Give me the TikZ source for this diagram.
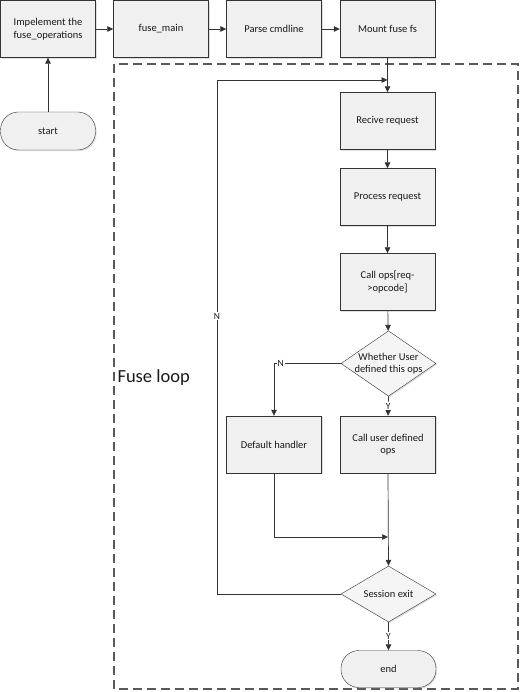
\documentclass[tikz,border=0pt]{standalone}
\usepackage{fontspec}
\setmainfont{Carlito}
\usetikzlibrary{positioning,shapes.geometric,shadows,arrows.meta}

\begin{document}
\begin{tikzpicture}[
		x=1pt, y=-1pt,
		every node/.style={font=\fontsize{10.5}{12.5}\selectfont, text=black!90, align=center},
		box/.style={rectangle, draw=black!80, fill=black!6, minimum width=95pt, minimum height=57pt,
				drop shadow={shadow xshift=1.2pt, shadow yshift=-1.2pt, opacity=0.25}},
		term/.style={box, rounded corners=18pt, minimum height=37pt},
		choice/.style={diamond, draw=black!80, fill=black!4, minimum width=95pt, minimum height=57pt, inner sep=-6pt,
				drop shadow={shadow xshift=1.2pt, shadow yshift=-1.2pt, opacity=0.25}},
		flow/.style={draw=black!80, line width=0.7pt, -{Triangle[length=6pt,width=5.5pt]}},
		lbl/.style={fill=white, inner sep=1pt, font=\fontsize{9.5}{10}\selectfont},
		loopbox/.style={draw=black!65, line width=1.8pt, dash pattern=on 9pt off 5pt}
	]
	\useasboundingbox (0,0) rectangle (522,692);

	% fuse loop frame
	\draw[loopbox] (114,64) rectangle (518,689);
	\node[anchor=west, font=\fontsize{18.5}{20}\selectfont] (looplbl) at (114,378) {Fuse loop};

	% setup chain
	\node[box] (impl) at (48,29) {Impelement the\\fuse\_operations};
	\node[box] (fusemain) at (161,29) {fuse\_main};
	\node[box] (parse) at (274,29) {Parse cmdline};
	\node[box] (mount) at (387.5,29) {Mount fuse fs};
	\node[term, minimum height=38pt] (start) at (48,131) {start};

	% request loop
	\node[box] (recv) at (387.5,121) {Recive request};
	\node[box] (process) at (387.5,197) {Process request};
	\node[box] (callops) at (387.5,282) {Call ops[req-\\>opcode]};
	\node[choice] (check) at (388.5,363.5) {Whether User\\defined this ops};
	\node[box] (userops) at (388,444.5) {Call user defined\\ops};
	\node[box] (handler) at (274,444.5) {Default handler};
	\node[choice, minimum height=56pt] (session) at (388.5,594) {Session exit};
	\node[term] (end) at (388.5,669) {end};

	\coordinate (looptop) at (217,80);
	\coordinate (merge) at (274,537);

	\draw[flow] (start) -- (impl);
	\draw[flow] (impl) -- (fusemain);
	\draw[flow] (fusemain) -- (parse);
	\draw[flow] (parse) -- (mount);
	\draw[flow] (mount) -- (recv);
	\draw[flow] (recv) -- (process);
	\draw[flow] (process) -- (callops);
	\draw[flow] (callops) -- (check);
	\draw[flow] (check.west) -| node[lbl, pos=0.45] {N} (handler.north);
	\draw[flow] (check.south) -- node[lbl] {Y} (userops.north);
	\draw[flow] (handler.south) -- (merge) -- (userops.south |- merge);
	\draw[flow] (userops.south) -- (session.north);
	\draw[flow] (session.west) -| node[lbl, pos=0.77] {N} (looptop) -- (mount.south |- looptop);
	\draw[flow] (session.south) -- node[lbl] {Y} (end.north);
\end{tikzpicture}
\end{document}
